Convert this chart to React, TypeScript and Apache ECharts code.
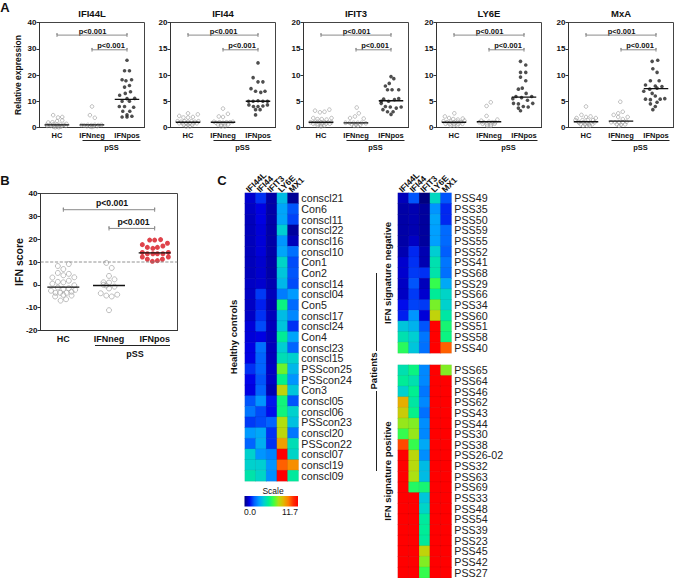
import React, { useEffect, useRef } from "react";
import * as echarts from "echarts";

type P = [number, number];
const FONT = '"Liberation Sans", Arial, sans-serif';
const groups = ["HC", "IFNneg", "IFNpos"];

// Points: [horizontal offset inside the group, value]
const ifi44lHC: P[] = [[-.11,4.7],[.03,3.8],[.15,4],[.15,2.7],[-.25,1.9],[-.13,2],[0,2.4],[.27,1.4],[-.3,1],[-.2,1.1],[-.1,1.2],[0,1.1],[.1,1.1],[.2,1],[-.28,.6],[-.18,.6],[-.08,.7],[.04,.7],[.14,.6],[.25,.6],[-.1,.3],[0,.3],[.1,.3],[-.05,.1],[.05,.1]];
const ifi44lNeg: P[] = [[0,8],[-.06,4.7],[.08,3.7],[-.3,.9],[-.22,.8],[-.12,1],[-.02,.9],[.08,1],[.18,.9],[.27,1],[-.15,.5],[-.05,.4],[.05,.5],[.15,.5],[0,.2]];
const ifi44lPos: P[] = [[0,25.6],[-.07,21.6],[.07,21.6],[-.14,18.2],[-.03,17.8],[.13,18.2],[-.07,15.4],[.07,16],[.1,13.6],[-.05,13],[-.21,12.3],[0,11],[.22,11.1],[-.14,10],[.07,10],[-.22,8],[-.07,8],[.19,7.7],[-.12,6.2],[.08,6.2],[0,4.8],[-.14,4],[0,4],[.14,4.3]];
const ifi44HC: P[] = [[0,2.7],[-.25,2.2],[.28,2.5],[-.13,1.9],[0,1.9],[.14,2],[-.3,1.2],[-.2,1.1],[-.1,1.2],[0,1.1],[.1,1.2],[.2,1.1],[.3,1.2],[-.25,.8],[-.15,.8],[-.05,.8],[.05,.8],[.15,.8],[.25,.8],[-.12,.5],[0,.5],[.12,.5],[-.05,.2],[.05,.2]];
const ifi44Neg: P[] = [[0,3.6],[.14,2.6],[-.12,2.1],[0,2],[-.26,1.1],[-.2,.9],[-.1,1],[0,.9],[.1,1],[.2,1],[.28,1.1],[-.15,.6],[-.05,.5],[.05,.6],[.15,.6],[-.05,.2],[.05,.2]];
const ifi44Pos: P[] = [[0,12.3],[-.14,9.5],[0,8.7],[.14,8.7],[-.2,7.4],[-.07,6.9],[.08,6.7],[.2,6.9],[-.27,5],[-.14,5],[0,5.1],[.14,5],[.27,5],[-.26,4.3],[-.13,4],[0,4],[.14,4.1],[.27,4.3],[-.07,3.4],[.06,3.4],[-.07,2.4]];
const ifit3HC: P[] = [[-.17,3.2],[-.03,2.9],[.1,3],[.24,3.4],[-.22,1.8],[-.1,1.6],[.02,1.6],[.16,1.5],[.3,1.8],[-.3,1],[-.2,1],[-.1,1.1],[0,1],[.1,1],[.2,1],[.3,1],[-.22,.7],[-.1,.7],[.02,.7],[.14,.7],[.25,.7],[-.1,.4],[0,.4],[.1,.4],[0,.2]];
const ifit3Neg: P[] = [[.02,3.8],[-.17,1.8],[-.03,2.1],[.08,2.7],[.22,1.7],[-.3,.9],[-.18,.9],[-.07,.9],[.05,.9],[.16,.9],[.28,.8],[-.12,.6],[0,.5],[.12,.5],[-.05,.3],[.05,.3]];
const ifit3Pos: P[] = [[0,9.7],[.08,9.3],[-.16,7.9],[-.05,8.4],[.03,7.2],[-.1,7.2],[.22,7.2],[-.21,5.4],[-.07,5],[.1,5.3],[.22,5.5],[-.28,4.6],[-.16,4],[-.02,3.9],[.15,3.7],[.29,3.9],[-.23,3.4],[-.1,3],[.06,3],[0,2.5],[-.28,5]];
const ly6eHC: P[] = [[.01,2.7],[-.26,2.1],[-.14,1.8],[-.02,1.6],[.11,1.5],[.25,1.7],[.3,1.3],[-.3,1.2],[-.2,1],[-.1,1.1],[0,1],[.1,1.1],[.2,1],[-.24,.7],[-.12,.7],[0,.7],[.12,.7],[.24,.7],[-.1,.4],[0,.4],[.1,.4]];
const ly6eNeg: P[] = [[.05,4.8],[-.07,4.1],[-.07,2.2],[-.22,1.3],[0,1.1],[.24,1.5],[-.28,1],[-.15,1],[.1,1],[.18,1],[-.18,.7],[-.06,.6],[.06,.6],[.16,.7],[-.05,.3],[.05,.3]];
const ly6ePos: P[] = [[-.1,12.6],[.05,11.9],[-.1,10.5],[.05,10.5],[-.1,9.6],[.05,8.9],[-.05,7.5],[-.16,7.3],[.06,6.5],[-.07,5.7],[-.23,5.9],[-.32,5.5],[.22,5.9],[.1,5.2],[-.16,4.5],[-.3,4.6],[-.02,4],[.12,3.9],[.25,4.6],[-.16,3.7],[-.1,3.2]];
const mxaHC: P[] = [[0,4],[-.13,2.4],[-.27,1.8],[0,2],[.13,2.1],[.28,1.8],[-.22,1.1],[-.3,1.4],[-.1,1.4],[.05,1.4],[.2,1.4],[-.2,.9],[-.08,1],[.03,.9],[.14,.9],[.25,1],[-.15,.6],[-.03,.6],[.08,.6],[.18,.6],[-.08,.3],[.03,.3],[.1,.3]];
const mxaNeg: P[] = [[-.02,4.9],[-.21,2.4],[-.08,2.7],[.05,3],[-.08,2],[.19,2],[.05,1.6],[-.28,1],[-.17,1],[-.06,1],[.05,1],[.16,1.1],[-.12,.6],[0,.5],[.12,.6],[-.05,.3]];
const mxaPos: P[] = [[-.11,12.6],[.05,12.8],[-.09,11.2],[.03,10.5],[-.16,8.9],[.09,8.9],[-.02,7.9],[-.3,8.1],[-.18,7.3],[.17,7.8],[-.35,6.9],[-.11,6.5],[.03,7.5],[-.3,5.4],[-.16,5.3],[-.02,6],[.12,5.4],[.25,5.5],[-.16,4.5],[.03,4.8],[-.02,4],[-.09,3.4]];
const scoreHC: P[] = [[.12,9.1],[-.12,8.25],[0,6.9],[-.12,5.2],[.12,4.8],[0,4.2],[.24,3.3],[-.24,3.2],[.12,1.8],[-.12,1.3],[0,1.1],[-.24,.5],[.24,-.2],[-.12,-1.2],[0,-1.8],[.12,-1.5],[.26,-2.2],[-.27,-2.6],[-.17,-3.5],[-.07,-3.5],[.07,-3.5],[.18,-3],[-.18,-5.1],[0,-4.4],[.18,-4.7],[.06,-6.3],[-.06,-6.9]];
const scoreNeg: P[] = [[-.06,9.6],[.06,7.4],[0,3.9],[.12,2.4],[-.12,1.1],[0,1],[-.12,0],[-.06,-.3],[.12,-.8],[0,-1.6],[-.18,-3.7],[-.06,-4.7],[.06,-5.1],[.18,-4.3],[0,-11.1]];
const scorePos: P[] = [[-.11,19.6],[0,19.6],[.13,19.8],[-.27,17.6],[.28,18.2],[-.16,16.4],[-.04,16],[.06,16.4],[.18,17],[-.27,14.2],[-.16,13.6],[-.04,13.6],[.06,13.6],[.18,13.6],[.3,14.2],[-.27,12.2],[-.16,11.2],[-.05,10.3],[.06,10.6],[.17,11.2],[.3,12.2]];

const medians = {
  ifi44l: [1, 1, 10.7],
  ifi44: [1, 1, 5],
  ifit3: [1, 0.9, 5.1],
  ly6e: [1, 1.1, 5.8],
  mxa: [1.1, 1.2, 7.4],
  score: [-1, -0.3, 14],
};

const heatGenes = ["IFI44L", "IFI44", "IFIT3", "LY6E", "MX1"];
const controlRows = ["conscl21","Con6","conscl11","conscl22","conscl16","conscl10","Con1","Con2","conscl14","conscl04","Con5","conscl17","conscl24","Con4","conscl23","conscl15","PSScon25","PSScon24","Con3","conscl05","conscl06","PSScon23","conscl20","PSScon22","conscl07","conscl19","conscl09"];
const controlValues = [
  [.8,1.6,.4,3.8,.2],[.7,1,.4,3.3,2],[.6,1,.4,3.3,1.8],[.6,.9,.4,4.2,.3],[.6,.9,.4,3,.6],[.6,.9,.4,3.3,2.4],[.6,.8,.4,4.4,1.9],[.6,.8,.4,4,2],[.7,.8,.5,3.7,1.9],[.7,1.7,.6,2.6,3.1],[.7,1.4,.5,5.5,2.3],[.7,1.6,.6,3.8,2.8],[.9,1.9,.6,4,1.6],[.9,1,.6,5.2,3.3],[1,2.4,.6,4.2,2.2],[1,2.2,.6,4.7,4.3],[1.6,2.2,.7,6.8,3.7],[1.1,2,.7,5.4,3],[1,2.2,.5,7.8,4],[2,3,1.3,5.6,2],[2.5,1.9,1.2,5.6,4.3],[1.7,1.9,2.2,7.5,3.9],[3.1,3.4,1.6,7.7,2.5],[2.2,3.5,1.6,9,4.7],[4.3,3,2.7,11.7,4.4],[4.3,4.2,3,10,9.3],[4.9,4.4,2.9,11.7,5.1],
];
const negRows = ["PSS49","PSS35","PSS50","PSS59","PSS55","PSS52","PSS41","PSS68","PSS29","PSS66","PSS34","PSS60","PSS51","PSS58","PSS40"];
const negValues = [
  [.6,2,-1,4.5,2],[.4,.5,.3,3,1.5],[.4,.5,.3,3.3,1.5],[.4,.5,.3,3.2,2.3],[.4,.7,.3,3.2,2.3],[.5,1.5,.5,4.2,2.1],[.8,1.6,.5,4.8,2.5],[.8,1.7,1.6,4.9,2.4],[.7,2,.6,6.2,3.4],[.7,1.7,.8,5.2,4.4],[1.2,1.8,1.7,6.9,4.3],[1.4,3,.9,7.8,5],[4,3.6,2,11.7,5.7],[4.8,4.2,2.5,11.7,5.5],[6,4,2.4,11.7,10],
];
const posRows = ["PSS65","PSS64","PSS46","PSS62","PSS43","PSS44","PSS30","PSS38","PSS26-02","PSS32","PSS63","PSS69","PSS33","PSS48","PSS54","PSS39","PSS23","PSS45","PSS42","PSS27"];
const posValues = [
  [4.8,5.5,2.8,11.7,7],[5.2,4.8,2.8,11.7,11.7],[4.3,5.3,2.5,11.7,11.7],[8.7,5,2.8,11.7,11.7],[8,5.4,2.4,11.7,11.7],[7.2,7,2.9,11.7,11.7],[6.2,7.2,2.8,11.7,11.7],[10.3,6.2,3.4,11.7,11.7],[11.7,7.7,2.9,11.7,11.7],[11.7,7.6,3.8,11.7,11.7],[11.7,7.4,3.8,11.7,11.7],[11.7,5.9,5.7,11.7,11.7],[11.7,11.7,4,11.7,11.7],[11.7,11.7,4.4,11.7,11.7],[11.7,11.7,5.1,11.7,11.7],[11.7,11.7,5.2,11.7,11.7],[11.7,11.7,5.1,11.7,11.7],[11.7,11.7,7.8,11.7,11.7],[11.7,11.7,7,11.7,11.7],[11.7,11.7,6.2,11.7,11.7],
];
const heatColors = ["#000080","#0000e8","#0060ff","#00a0ff","#00d0d0","#00f090","#40ff40","#b0e010","#e0b800","#ff8000","#ff3000","#ff0000"];

export default function App() {
  const ref = useRef<HTMLDivElement>(null);
  useEffect(() => {
    const chart = echarts.init(ref.current!, undefined, { renderer: "svg" });
    const grids: any[] = [];
    const xAxes: any[] = [];
    const yAxes: any[] = [];
    const series: any[] = [];
    const graphics: any[] = [];
    const txt = (text: string, x: number, y: number, font: string, extra: any = {}) =>
      graphics.push({ type: "text", x, y, rotation: extra.rotation || 0, silent: true, style: { text, font, fill: extra.fill || "#111", align: extra.align || "center", verticalAlign: "middle" } });
    const seg = (x1: number, y1: number, x2: number, y2: number, color = "#222", lineWidth = 1) =>
      graphics.push({ type: "line", silent: true, shape: { x1, y1, x2, y2 }, style: { stroke: color, lineWidth } });

    const addDotPanel = (cfg: any) => {
      const g = grids.length;
      grids.push({ left: cfg.left, top: cfg.top, width: cfg.width, height: cfg.height, show: true, borderColor: "#444", borderWidth: 1, backgroundColor: "transparent" });
      xAxes.push({
        gridIndex: g, type: "category", data: groups, position: "bottom",
        axisTick: { alignWithLabel: true, length: 3, lineStyle: { color: "#333" } },
        axisLine: { onZero: false, lineStyle: { color: "#333", width: 1 } },
        axisLabel: { color: "#111", fontFamily: FONT, fontWeight: "bold", fontSize: cfg.labelSize, margin: 4, interval: 0 },
        splitLine: { show: false },
      });
      const valX = xAxes.length;
      xAxes.push({ gridIndex: g, type: "value", min: 0, max: 3, show: false, splitLine: { show: false } });
      const yi = yAxes.length;
      yAxes.push({
        gridIndex: g, type: "value", min: cfg.min, max: cfg.max, interval: cfg.interval,
        axisLine: { show: true, onZero: false, lineStyle: { color: "#333" } },
        axisTick: { show: true, length: 3, lineStyle: { color: "#333" } },
        axisLabel: { color: "#111", fontFamily: FONT, fontWeight: "bold", fontSize: 8, margin: 3 },
        splitLine: { show: false },
      });
      const axes = { xAxisIndex: valX, yAxisIndex: yi };
      cfg.points.forEach((pts: P[], i: number) => {
        const filled = i === 2;
        series.push({
          ...axes, type: "scatter", name: groups[i], symbol: "circle", symbolSize: cfg.dot,
          itemStyle: filled ? { color: cfg.fill, borderWidth: 0 } : { color: "transparent", borderColor: "#999", borderWidth: 0.8 },
          data: pts.map(([o, v]) => [i + 0.5 + o, v]),
        });
        series.push({
          ...axes, type: "line", symbol: "none", silent: true,
          lineStyle: { color: "#111", width: 1.3 },
          data: [[i + 0.5 - 0.35, cfg.medians[i]], [i + 0.5 + 0.35, cfg.medians[i]]],
        });
      });
      cfg.brackets.forEach(([x1, x2, y]: number[]) => {
        const d = cfg.cap;
        series.push({
          ...axes, type: "line", symbol: "none", silent: true,
          lineStyle: { color: "#8a8a8a", width: 1 },
          data: [[x1, y - d], [x1, y + d], [x1, y], [x2, y], [x2, y + d], [x2, y - d]],
        });
      });
      if (cfg.refLine !== undefined) {
        series.push({
          ...axes, type: "line", symbol: "none", silent: true,
          lineStyle: { color: "#777", width: 0.8, type: "dashed" },
          data: [[0, cfg.refLine], [3, cfg.refLine]],
        });
      }
    };

    const aPanels = [
      { title: "IFI44L", left: 39.5, max: 40, interval: 10, pts: [ifi44lHC, ifi44lNeg, ifi44lPos], med: medians.ifi44l },
      { title: "IFI44", left: 170.5, max: 20, interval: 5, pts: [ifi44HC, ifi44Neg, ifi44Pos], med: medians.ifi44 },
      { title: "IFIT3", left: 303.5, max: 20, interval: 5, pts: [ifit3HC, ifit3Neg, ifit3Pos], med: medians.ifit3 },
      { title: "LY6E", left: 436.5, max: 20, interval: 5, pts: [ly6eHC, ly6eNeg, ly6ePos], med: medians.ly6e },
      { title: "MxA", left: 568.5, max: 20, interval: 5, pts: [mxaHC, mxaNeg, mxaPos], med: medians.mxa },
    ];
    const W = 105, T = 22.5, H = 105;
    aPanels.forEach((p) => {
      const k = p.max / 20;
      addDotPanel({
        left: p.left, top: T, width: W, height: H, min: 0, max: p.max, interval: p.interval,
        points: p.pts, medians: p.med, dot: 3.6, fill: "#222", labelSize: 7.5,
        brackets: [[0.5, 2.5, 17.6 * k], [1.5, 2.5, 14.8 * k]], cap: 0.35 * k,
      });
      txt(p.title, p.left + W / 2, 13, `bold 9.5px ${FONT}`);
      txt("p<0.001", p.left + 53, 31, `bold 7.5px ${FONT}`);
      txt("p<0.001", p.left + 71.5, 45, `bold 7.5px ${FONT}`);
      seg(p.left + 43, 140.5, p.left + 101, 140.5);
      txt("pSS", p.left + 72, 147, `bold 7.5px ${FONT}`);
    });
    txt("Relative expression", 17.5, 75, `bold 8.5px ${FONT}`, { rotation: Math.PI / 2 });

    addDotPanel({
      left: 40.5, top: 193.5, width: 137, height: 137, min: -20, max: 40, interval: 10,
      points: [scoreHC, scoreNeg, scorePos], medians: medians.score, dot: 5, fill: "#d7141e", labelSize: 9,
      brackets: [[0.5, 2.5, 32.9], [1.5, 2.5, 24.7]], cap: 0.9, refLine: 10,
    });
    txt("p<0.001", 112, 203, `bold 8.7px ${FONT}`);
    txt("p<0.001", 133.5, 222, `bold 8.7px ${FONT}`);
    seg(95, 345.5, 170, 345.5);
    txt("pSS", 135, 354, `bold 9px ${FONT}`);
    txt("IFN score", 19, 262, `bold 10.5px ${FONT}`, { rotation: Math.PI / 2 });

    txt("A", 5, 7, `bold 13px ${FONT}`);
    txt("B", 5, 180, `bold 13px ${FONT}`);
    txt("C", 222, 180, `bold 13px ${FONT}`);

    const heatSeries: number[] = [];
    const addHeat = (left: number, top: number, rows: string[], values: number[][], showGenes: boolean) => {
      const g = grids.length;
      const c = 10.67;
      grids.push({ left, top, width: c * 5, height: c * rows.length, show: false });
      const xi = xAxes.length;
      xAxes.push({
        gridIndex: g, type: "category", data: heatGenes, position: "top",
        axisLine: { show: false }, axisTick: { show: false }, splitLine: { show: false },
        axisLabel: { show: false },
      });
      const yi = yAxes.length;
      yAxes.push({
        gridIndex: g, type: "category", data: rows, inverse: true, position: "right",
        axisLine: { show: false }, axisTick: { show: false }, splitLine: { show: false },
        axisLabel: { interval: 0, margin: 3, color: "#222", fontFamily: FONT, fontSize: 10.7 },
      });
      heatSeries.push(series.length);
      const data: number[][] = [];
      values.forEach((row, r) => row.forEach((v, col) => data.push([col, r, v])));
      series.push({
        type: "heatmap", xAxisIndex: xi, yAxisIndex: yi, data, silent: true,
        itemStyle: { borderColor: "rgba(0,0,0,0.12)", borderWidth: 0.5 },
      });
      if (showGenes) {
        heatGenes.forEach((gene, i) =>
          txt(gene, left + c * (i + 0.5) - 3, top - 2, `bold 8.5px ${FONT}`, { rotation: Math.PI / 4, align: "left" }),
        );
      }
    };
    addHeat(245, 193, controlRows, controlValues, true);
    addHeat(398, 193, negRows, negValues, true);
    addHeat(398, 365, posRows, posValues, false);

    txt("Healthy controls", 233, 337, `bold 9.5px ${FONT}`, { rotation: Math.PI / 2 });
    txt("IFN signature negative", 387, 273, `bold 9.5px ${FONT}`, { rotation: Math.PI / 2 });
    txt("IFN signature positive", 387, 471, `bold 9.5px ${FONT}`, { rotation: Math.PI / 2 });
    txt("Patients", 373, 371, `bold 9.5px ${FONT}`, { rotation: Math.PI / 2 });
    seg(376.5, 273, 376.5, 351);
    seg(376.5, 391, 376.5, 471);

    txt("Scale", 273, 491, `8.5px ${FONT}`);
    graphics.push({
      type: "rect", silent: true, shape: { x: 244.5, y: 496, width: 53.5, height: 10.5 },
      style: { fill: new echarts.graphic.LinearGradient(0, 0, 1, 0, heatColors.map((color, i) => ({ offset: i / (heatColors.length - 1), color }))) },
    });
    txt("0.0", 250, 512, `8.5px ${FONT}`);
    txt("11.7", 290, 512, `8.5px ${FONT}`);

    chart.setOption({
      animation: false,
      backgroundColor: "#fff",
      grid: grids,
      xAxis: xAxes,
      yAxis: yAxes,
      visualMap: [{
        type: "continuous", show: false, min: 0, max: 11.7, dimension: 2, seriesIndex: heatSeries,
        inRange: { color: heatColors }, outOfRange: { color: "#000" },
      }],
      series,
      graphic: graphics,
    });
    return () => chart.dispose();
  }, []);
  return <div ref={ref} style={{ position: "absolute", left: 0, top: 0, width: 675, height: 578 }} />;
}
